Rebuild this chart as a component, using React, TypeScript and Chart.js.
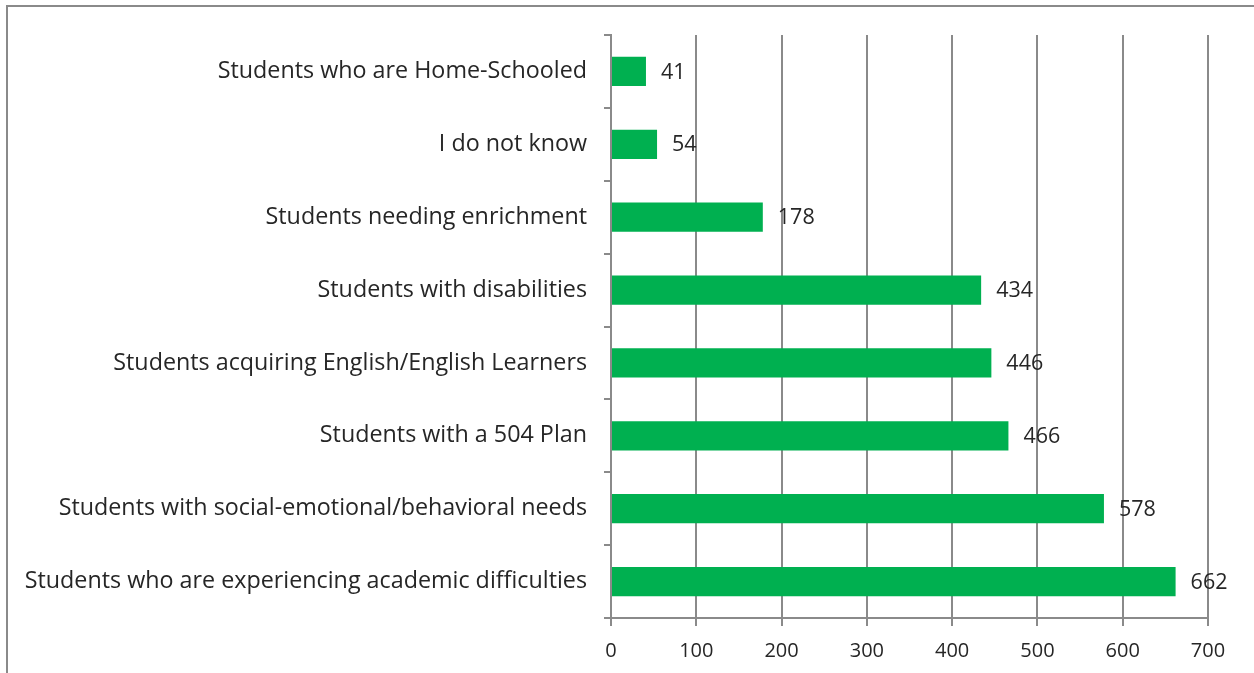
import React, { useEffect, useRef } from "react";
import { Chart, registerables } from "chart.js";

Chart.register(...registerables);

const categories = [
  "Students who are Home-Schooled",
  "I do not know",
  "Students needing enrichment",
  "Students with disabilities",
  "Students acquiring English/English Learners",
  "Students with a 504 Plan",
  "Students with social-emotional/behavioral needs",
  "Students who are experiencing academic difficulties",
];
const counts = [41, 54, 178, 434, 446, 466, 578, 662];
const xMin = 0;
const xMax = 700;
const xStep = 100;

const FONT = "'Open Sans', Lato, sans-serif";
const GRID = "#8a8a8a";
const TEXT = "#262626";
const GREEN = "#00B050";

const valueLabels = {
  id: "valueLabels",
  afterDatasetsDraw(chart: any) {
    const ctx = chart.ctx;
    const meta = chart.getDatasetMeta(0);
    ctx.save();
    ctx.font = `21.5px ${FONT}`;
    ctx.fillStyle = TEXT;
    ctx.textAlign = "left";
    ctx.textBaseline = "middle";
    meta.data.forEach((el: any, i: number) => {
      ctx.fillText(String(counts[i]), el.x + 15, el.y + 1);
    });
    ctx.restore();
  },
};

export default function App() {
  const ref = useRef<HTMLCanvasElement | null>(null);
  useEffect(() => {
    if (!ref.current) return;
    const chart = new Chart(ref.current, {
      type: "bar",
      data: {
        labels: categories,
        datasets: [
          {
            data: counts,
            backgroundColor: GREEN,
            borderWidth: 0,
            barPercentage: 0.4,
            categoryPercentage: 1.0,
          },
        ],
      },
      options: {
        indexAxis: "y",
        animation: false,
        responsive: false,
        maintainAspectRatio: false,
        layout: { padding: { top: 35, right: 46, bottom: 0, left: 0 } },
        plugins: { legend: { display: false }, tooltip: { enabled: false } },
        scales: {
          x: {
            min: xMin,
            max: xMax,
            ticks: {
              stepSize: xStep,
              color: TEXT,
              font: { family: FONT, size: 20 },
              padding: 13,
            },
            grid: { color: GRID, lineWidth: 2, tickLength: 8 },
            border: { color: GRID, width: 2 },
            afterFit(scale: any) {
              scale.height = 55;
            },
          },
          y: {
            ticks: {
              color: TEXT,
              font: { family: FONT, size: 23.3 },
              padding: 17,
            },
            grid: {
              offset: true,
              drawOnChartArea: false,
              color: GRID,
              lineWidth: 2,
              tickLength: 7,
            },
            border: { color: GRID, width: 2 },
            afterFit(scale: any) {
              scale.width = 611;
            },
          },
        },
      },
      plugins: [valueLabels],
    });
    return () => chart.destroy();
  }, []);
  return (
    <div style={{ position: "fixed", left: 0, top: 0, width: 1254, height: 673, background: "#fff" }}>
      <div
        style={{
          position: "absolute",
          left: 6,
          top: 5,
          width: 1300,
          height: 700,
          borderLeft: `2px solid ${GRID}`,
          borderTop: `2px solid ${GRID}`,
        }}
      />
      <canvas ref={ref} width={1254} height={673} style={{ position: "absolute", left: 0, top: 0 }} />
    </div>
  );
}
